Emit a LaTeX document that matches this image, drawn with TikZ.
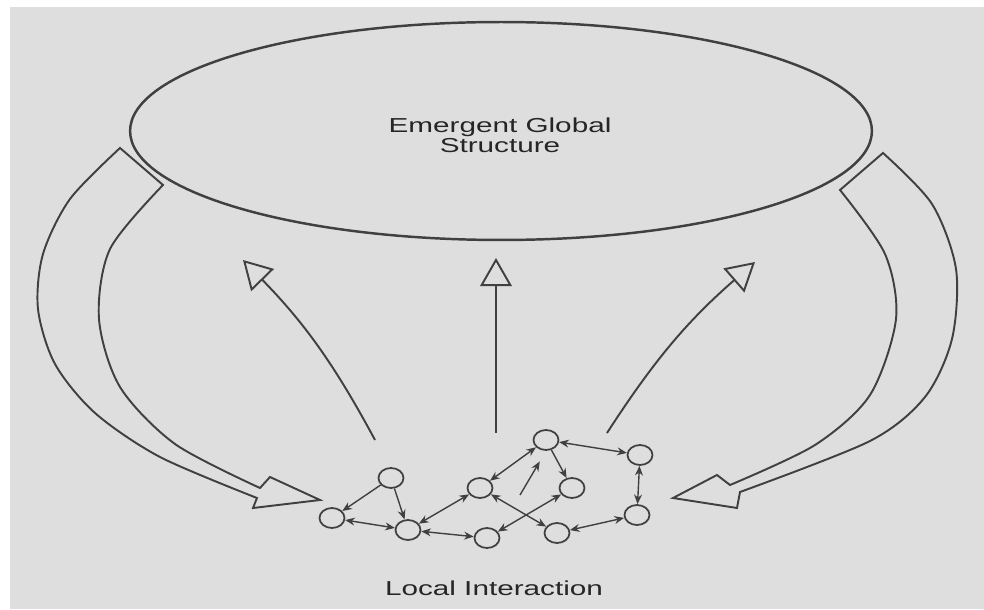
\documentclass[tikz,border=0pt]{standalone}
\usepackage{fontspec}
\setmainfont{Liberation Sans}
\usepackage{graphicx}
\usetikzlibrary{arrows.meta,shapes.geometric}

\definecolor{ink}{HTML}{404040}
\definecolor{paper}{HTML}{DEDEDE}
\newcommand{\widetext}[1]{\scalebox{1.47}[1]{#1}}

\begin{document}
\begin{tikzpicture}[x=0.02cm,y=0.02cm,
  >={Stealth[length=5.5pt,width=4.5pt]},
  cell/.style={draw=ink,line width=1pt,ellipse,minimum width=0.5cm,minimum height=0.4cm,inner sep=0pt},
  link/.style={draw=ink,line width=0.8pt},
  rise/.style={draw=ink,line width=1.1pt,-{Triangle[open,length=16pt,width=18pt]}},
  bigarrow/.style={draw=ink,line width=1.1pt,line join=miter},
  caption/.style={text=black!85,font=\fontsize{11.5}{13}\selectfont,inner sep=0pt,anchor=base}]

\useasboundingbox (0,0) rectangle (984,609);
\fill[white] (0,0) rectangle (984,609);
\fill[paper] (10,0) rectangle (984,602);

% global structure
\node[draw=ink,line width=1.4pt,ellipse,minimum width=14.84cm,minimum height=4.36cm,inner sep=0pt] (glob) at (501,478) {};
\node[caption] (glob1) at (500,476) {\widetext{Emergent Global}};
\node[caption] (glob2) at (500,456) {\widetext{Structure}};

% feedback arrows
\draw[bigarrow] plot[smooth] coordinates {(120,461) (70,410) (43,355) (38,300) (55,245) (95,196) (160,152) (257,111)}
  -- (253,101) -- (320,109) -- (270,132)
  -- plot[smooth] coordinates {(260,121) (175,165) (120,222) (99,290) (110,360) (163,424)} -- cycle;
\draw[bigarrow] plot[smooth] coordinates {(883,456) (932,405) (956,340) (952,270) (925,212) (870,168) (740,117)}
  -- (737,101) -- (673,111) -- (717,134)
  -- plot[smooth] coordinates {(730,124) (815,164) (870,214) (896,290) (885,355) (840,419)} -- cycle;

% local interaction
\node[cell] (a) at (332,91) {};
\node[cell] (b) at (391,131) {};
\node[cell] (c) at (408,79) {};
\node[cell] (d) at (480,121) {};
\node[cell] (e) at (487,71) {};
\node[cell] (f) at (546,169) {};
\node[cell] (g) at (572,121) {};
\node[cell] (h) at (557,76) {};
\node[cell] (i) at (640,154) {};
\node[cell] (j) at (637,94) {};

\draw[link,->] (b) -- (a);
\draw[link,->] (b) -- (c);
\draw[link,<->] (a) -- (c);
\draw[link,<->] (c) -- (e);
\draw[link,<->] (c) -- (d);
\draw[link,<->] (d) -- (f);
\draw[link,->] (f) -- (g);
\draw[link,<->] (f) -- (i);
\draw[link,<->] (i) -- (j);
\draw[link,<->] (j) -- (h);
\draw[link,<->] (d) -- (h);
\draw[link,<->] (e) -- (g);
\coordinate (push) at (520,114);
\draw[link,->,shorten >=7pt] (push) -- (f.south);

\node[caption] (local) at (494,14) {\widetext{Local Interaction}};

% emergence
\coordinate (riseL0) at (375,169);
\coordinate (riseL1) at (243,349);
\coordinate (riseM0) at (496,176);
\coordinate (riseM1) at (496,351);
\coordinate (riseR0) at (607,176);
\coordinate (riseR1) at (755,347);
\draw[rise] (riseL0) to[bend right=8] (riseL1);
\draw[rise] (riseM0) -- (riseM1);
\draw[rise] (riseR0) to[bend left=8] (riseR1);
\end{tikzpicture}
\end{document}
